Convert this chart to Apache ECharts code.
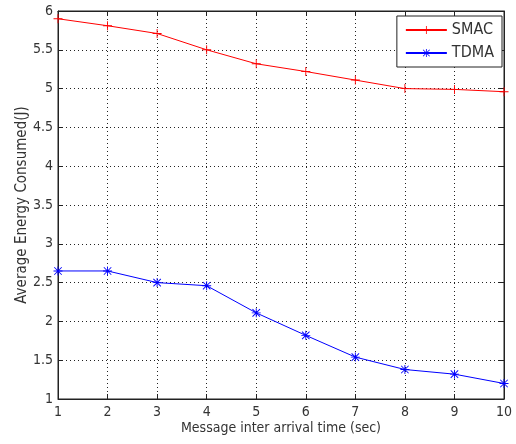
<!DOCTYPE html>
<html><head><meta charset="utf-8">
<script src="https://cdn.jsdelivr.net/npm/echarts@6/dist/echarts.min.js"></script>
<style>html,body{margin:0;padding:0;background:#fff}#c{width:516px;height:444px}</style>
</head><body><div id="c"></div>
<script>
const categories = [1,2,3,4,5,6,7,8,9,10];
const smac = [5.9,5.81,5.71,5.5,5.32,5.22,5.11,5.0,4.99,4.96];
const tdma = [2.65,2.65,2.5,2.46,2.11,1.82,1.54,1.38,1.32,1.2];
const yTicks = [1,1.5,2,2.5,3,3.5,4,4.5,5,5.5,6];

const plusPath = 'path://M4.5,0h1v10h-1z M0,4.5h10v1h-10z';
const starPath = 'path://M4.5,0h1v10h-1z M0,4.5h10v1h-10z M1.2,0.5L9.5,8.8L8.8,9.5L0.5,1.2z M8.8,0.5L9.5,1.2L1.2,9.5L0.5,8.8z';
const font = '"DejaVu Sans Condensed", sans-serif';
const txt = '#333';
const chart = echarts.init(document.getElementById('c'));
const axisLine = {show:true, lineStyle:{color:'#222', width:1}};
chart.setOption({
  animation:false,
  backgroundColor:'#fff',
  grid:{left:58, right:12, top:11, bottom:45, containLabel:false, outerBoundsMode:'none',
        show:true, borderColor:'#222', borderWidth:1},
  legend:{
    orient:'vertical', right:14, top:16, padding:[6,8,6,8], itemGap:7,
    itemWidth:41, itemHeight:10,
    backgroundColor:'#fff', borderColor:'#222', borderWidth:1, borderRadius:0,
    textStyle:{fontFamily:font, fontSize:16, color:txt},
    data:['SMAC','TDMA']
  },
  xAxis:[{
    type:'value', min:1, max:10, interval:1,
    name:'Message inter arrival time (sec)', nameLocation:'middle', nameGap:22, nameMoveOverlap:false,
    nameTextStyle:{fontFamily:font, fontSize:14, color:txt},
    axisLine:axisLine,
    axisTick:{show:true, inside:true, length:5, lineStyle:{color:'#222'}},
    axisLabel:{fontFamily:font, fontSize:14, color:txt, margin:6},
    splitLine:{show:true, lineStyle:{color:'#222', type:[1,3], width:1}}
  },{
    type:'value', min:1, max:10, interval:1, position:'top',
    axisLine:axisLine, axisTick:{show:true, inside:true, length:5, lineStyle:{color:'#222'}},
    axisLabel:{show:false}, splitLine:{show:false}
  }],
  yAxis:[{
    type:'value', min:1, max:6, interval:0.5,
    name:'Average Energy Consumed(J)', nameLocation:'middle', nameGap:28, nameRotate:90, nameMoveOverlap:false,
    nameTextStyle:{fontFamily:font, fontSize:15, color:txt},
    axisLine:axisLine,
    axisTick:{show:true, inside:true, length:5, lineStyle:{color:'#222'}},
    axisLabel:{fontFamily:font, fontSize:14, color:txt, margin:5,
      formatter:v=> yTicks.includes(v) ? String(v) : ''},
    splitLine:{show:true, lineStyle:{color:'#222', type:[1,3], width:1}}
  },{
    type:'value', min:1, max:6, interval:0.5, position:'right',
    axisLine:axisLine, axisTick:{show:true, inside:true, length:5, lineStyle:{color:'#222'}},
    axisLabel:{show:false}, splitLine:{show:false}
  }],
  series:[{
    name:'SMAC', type:'line',
    data:categories.map((x,i)=>[x,smac[i]]),
    symbol:plusPath, symbolSize:9, showAllSymbol:true,
    lineStyle:{color:'#ff0000', width:1}, itemStyle:{color:'#ff0000'}
  },{
    name:'TDMA', type:'line',
    data:categories.map((x,i)=>[x,tdma[i]]),
    symbol:starPath, symbolSize:9, showAllSymbol:true,
    lineStyle:{color:'#0000ff', width:1}, itemStyle:{color:'#0000ff'}
  }]
});
</script></body></html>
